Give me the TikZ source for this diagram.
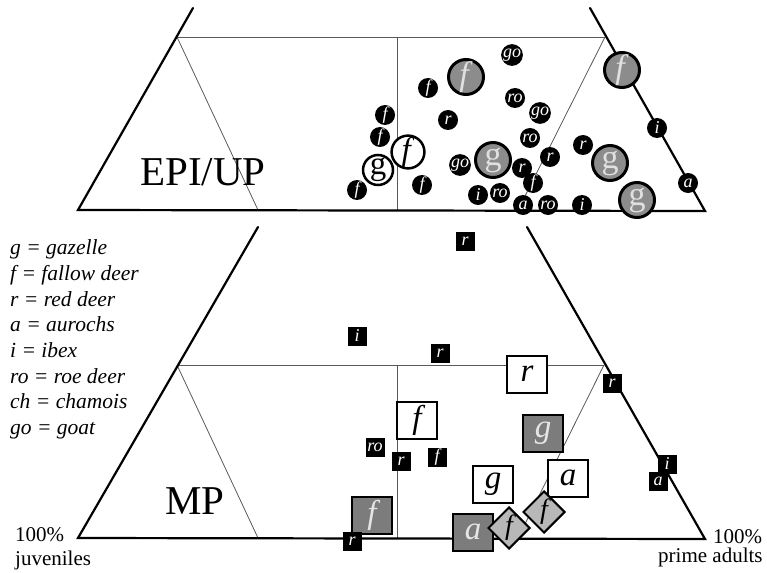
\documentclass[tikz,border=0pt]{standalone}
\usepackage{fontspec}
\setmainfont{Liberation Serif}
\usetikzlibrary{shapes.geometric}
\definecolor{cgray}{HTML}{8C8C8C}
\definecolor{bgray}{HTML}{7C7C7C}
\definecolor{dgray}{HTML}{B8B8B8}
\newcommand{\fsz}[1]{\fontsize{#1}{#1}\selectfont}
\begin{document}
\begin{tikzpicture}[x=1pt,y=-1pt,
 outer/.style={line width=2.2pt, line cap=round},
 inner/.style={line width=0.8pt, draw=black!65},
 sc/.style={circle, fill=black, text=white, minimum size=20pt, inner sep=0pt, font={\fsz{18}\itshape}},
 gc/.style={circle, fill=cgray, draw=black, line width=3pt, minimum size=35pt, inner sep=0pt, text=black!12, font={\fsz{34}}},
 wc/.style={circle, fill=white, draw=black, line width=2.5pt, minimum size=30pt, inner sep=0pt, font={\fsz{33}}},
 sq/.style={rectangle, fill=black, text=white, minimum size=19pt, inner sep=0pt, font={\fsz{18}\itshape}},
 wb/.style={rectangle, fill=white, draw=black, line width=2pt, minimum width=40pt, minimum height=37pt, inner sep=0pt, font={\fsz{33}\itshape}},
 gb/.style={wb, fill=bgray, text=black!10},
 db/.style={diamond, aspect=1, fill=dgray, draw=black, line width=2pt, minimum width=42pt, minimum height=42pt, inner sep=0pt, font={\fsz{28}\itshape}},
 lab/.style={anchor=base west, inner sep=0pt, font={\fsz{21.5}\itshape}},
 big/.style={anchor=base west, inner sep=0pt, font={\fsz{41}}},
 axl/.style={anchor=base west, inner sep=0pt, font={\fsz{21}}}
]
\useasboundingbox (0,0) rectangle (767,572);
% ---------- top triangle ----------
\coordinate (tBL) at (78,210); \coordinate (tTL) at (193,8);
\coordinate (tTR) at (590,8);  \coordinate (tBR) at (705,211);
\coordinate (tHL) at (177,37); \coordinate (tHR) at (605,37);
\coordinate (tVT) at (397,37); \coordinate (tVB) at (397,210);
\coordinate (tLB) at (258,210); \coordinate (tRB) at (518,210);
\draw[inner] (tHL) -- (tHR);
\draw[inner] (tVT) -- (tVB);
\draw[inner] (tHL) -- (tLB);
\draw[inner] (tHR) -- (tRB);
\draw[outer] (tTL) -- (tBL) -- (tBR) -- (tTR);
% ---------- bottom triangle ----------
\coordinate (bBL) at (78,538); \coordinate (bTL) at (258,227);
\coordinate (bTR) at (527,227); \coordinate (bBR) at (705,539);
\coordinate (bHL) at (177,365); \coordinate (bHR) at (604,365);
\coordinate (bVT) at (397,365); \coordinate (bVB) at (397,538);
\coordinate (bLB) at (258,538); \coordinate (bRB) at (518,538);
\draw[inner] (bHL) -- (bHR);
\draw[inner] (bVT) -- (bVB);
\draw[inner] (bHL) -- (bLB);
\draw[inner] (bHR) -- (bRB);
\draw[outer] (bTL) -- (bBL) -- (bBR) -- (bTR);
% ---------- labels ----------
\node[big] (epi) at (140,185) {EPI/UP};
\node[big] (mp) at (165,514) {MP};
\node[axl] (l100) at (15,541) {100\%};
\node[axl] (ljuv) at (15,565) {juveniles};
\node[axl] (r100) at (713,543) {100\%};
\node[axl] (rad) at (658,562) {prime adults};
\node[lab] (k1) at (10,254) {g = gazelle};
\node[lab] (k2) at (10,280) {f = fallow deer};
\node[lab] (k3) at (10,306) {r = red deer};
\node[lab] (k4) at (10,331) {a = aurochs};
\node[lab] (k5) at (10,357) {i = ibex};
\node[lab] (k6) at (10,383) {ro = roe deer};
\node[lab] (k7) at (10,408) {ch = chamois};
\node[lab] (k8) at (10,434) {go = goat};
% ---------- top markers ----------
\node[gc] (tF1) at (466,77) {\textit{f}};
\node[gc] (tG1) at (493,160) {g};
\node[gc] (tF2) at (622,70) {\textit{f}};
\node[gc] (tG2) at (610,163) {g};
\node[gc] (tG3) at (637,200) {g};
\node[wc] (tWg) at (378,170) {g};
\node[wc] (tWf) at (408,152) {\textit{f}};
\node[sc] (s1) at (385,115) {f};
\node[sc] (s2) at (380,137) {f};
\node[sc] (s3) at (357,190) {f};
\node[sc] (s4) at (422,185) {f};
\node[sc] (s5) at (428,88) {f};
\node[sc] (s6) at (448,120) {r};
\node[sc] (s7) at (512,55) {go};
\node[sc] (s8) at (515,98) {ro};
\node[sc] (s9) at (540,113) {go};
\node[sc] (s10) at (530,138) {ro};
\node[sc] (s11) at (550,157) {r};
\node[sc] (s12) at (460,165) {go};
\node[sc] (s13) at (522,168) {r};
\node[sc] (s14) at (533,183) {f};
\node[sc] (s15) at (478,195) {i};
\node[sc] (s16) at (500,193) {ro};
\node[sc] (s17) at (523,205) {a};
\node[sc] (s18) at (548,205) {ro};
\node[sc] (s19) at (582,205) {i};
\node[sc] (s20) at (583,145) {r};
\node[sc] (s21) at (657,128) {i};
\node[sc] (s22) at (688,183) {a};
% ---------- bottom markers ----------
\node[wb] (bWr) at (527,374) {r};
\node[wb] (bWf) at (417,420) {f};
\node[wb] (bWg) at (493,484) {g};
\node[wb] (bWa) at (568,478) {a};
\node[gb] (bGg) at (543,433) {g};
\node[gb] (bGf) at (372,515) {f};
\node[gb] (bGa) at (473,532) {a};
\node[db] (bD1) at (509,528) {f};
\node[db] (bD2) at (544,512) {f};
\node[sq] (q1) at (465,241) {r};
\node[sq] (q2) at (357,336) {i};
\node[sq] (q3) at (440,353) {r};
\node[sq] (q4) at (612,383) {r};
\node[sq] (q5) at (375,447) {ro};
\node[sq] (q6) at (401,461) {r};
\node[sq] (q7) at (437,457) {f};
\node[sq] (q8) at (667,464) {i};
\node[sq] (q9) at (658,481) {a};
\node[sq] (q10) at (352,541) {r};
\end{tikzpicture}
\end{document}
